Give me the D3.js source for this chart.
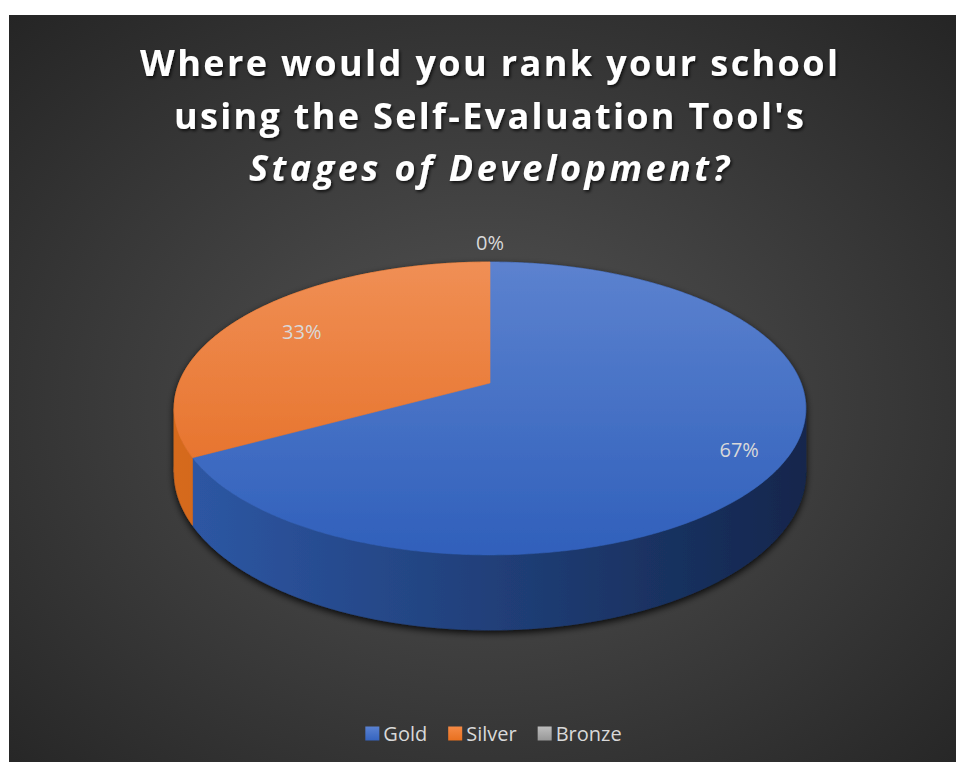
<!DOCTYPE html>
<html>
<head>
<meta charset="utf-8">
<script src="https://cdn.jsdelivr.net/npm/d3@7"></script>
<style>
  body { margin: 0; background: #ffffff; }
  svg { display: block; }
</style>
</head>
<body>
<svg id="chart" width="957" height="762"></svg>
<script>
// ---- data ----
const categories = ["Gold", "Silver", "Bronze"];
const values = [67, 33, 0];
const valueLabels = ["67%", "33%", "0%"];
const titleLines = ["Where would you rank your school", "using the Self-Evaluation Tool's", "Stages of Development?"];

// ---- styling ----
const topColors = [["#5c82cf", "#3060bb"], ["#f08f55", "#e3681c"], ["#c4c4c4", "#9a9a9a"]];
const sideColors = [["#2e58a6", "#13264c"], ["#d66a1e", "#a44d12"], ["#8a8a8a", "#5a5a5a"]];
const legendColors = [["#5a82d2", "#3564c0"], ["#f58a45", "#e8701f"], ["#bdbdbd", "#979797"]];
const labelRadius = [0.86, 0.75, 1.19];   // relative distance of each value label from the centre

const svg = d3.select("#chart");
const defs = svg.append("defs");

// background panel
const bg = defs.append("radialGradient").attr("id", "bgGrad")
  .attr("cx", "0.5").attr("cy", "0.52").attr("r", "0.72");
bg.append("stop").attr("offset", "0").attr("stop-color", "#545454");
bg.append("stop").attr("offset", "1").attr("stop-color", "#252525");
svg.append("rect").attr("x", 9).attr("y", 15).attr("width", 947).attr("height", 747)
  .attr("fill", "url(#bgGrad)");

// filters
const sh = defs.append("filter").attr("id", "pieShadow")
  .attr("x", "-10%").attr("y", "-10%").attr("width", "120%").attr("height", "130%");
sh.append("feDropShadow").attr("dx", 0).attr("dy", 3).attr("stdDeviation", 3.5)
  .attr("flood-color", "#000").attr("flood-opacity", 0.85);

const tsh = defs.append("filter").attr("id", "titleShadow")
  .attr("x", "-5%").attr("y", "-20%").attr("width", "110%").attr("height", "140%");
tsh.append("feDropShadow").attr("dx", 1.5).attr("dy", 2).attr("stdDeviation", 1.6)
  .attr("flood-color", "#000").attr("flood-opacity", 0.7);

// ---- pie geometry (perspective-projected disc) ----
const cx = 490, cy = 383;     // projected centre of the top face
const A = 311, B = 142;        // horizontal / vertical radii
const k = 0.174;               // perspective strength
const H = 62;                  // thickness
const TAU = Math.PI * 2;

function proj(theta, r, drop) {
  const u = r * Math.sin(theta), v = -r * Math.cos(theta);
  const w = 1 / (1 - k * v);
  return [cx + A * u * w, cy + B * v * w + drop * w];
}

function rimPoints(a0, a1, drop) {
  const n = Math.max(2, Math.ceil(Math.abs(a1 - a0) / 0.01));
  return d3.range(n + 1).map(i => proj(a0 + (a1 - a0) * i / n, 1, drop));
}

const line = d3.line();
const pie = d3.pie().sort(null).value(d => d.value).startAngle(0).endAngle(TAU);
const data = categories.map((c, i) => ({ name: c, value: values[i], label: valueLabels[i], idx: i }));
const arcs = pie(data);

// gradients for top and side faces
arcs.forEach(a => {
  const i = a.data.idx;
  const tg = defs.append("linearGradient").attr("id", "top" + i)
    .attr("gradientUnits", "userSpaceOnUse")
    .attr("x1", 0).attr("y1", cy - B / (1 + k)).attr("x2", 0).attr("y2", cy + B / (1 - k));
  tg.append("stop").attr("offset", 0).attr("stop-color", topColors[i][0]);
  tg.append("stop").attr("offset", 1).attr("stop-color", topColors[i][1]);
  const sg = defs.append("linearGradient").attr("id", "side" + i)
    .attr("gradientUnits", "userSpaceOnUse")
    .attr("x1", cx - A * 1.02).attr("y1", 0).attr("x2", cx + A * 1.02).attr("y2", 0);
  sg.append("stop").attr("offset", 0).attr("stop-color", sideColors[i][0]);
  sg.append("stop").attr("offset", 0.45).attr("stop-color", d3.interpolateRgb(sideColors[i][0], sideColors[i][1])(0.45));
  sg.append("stop").attr("offset", 1).attr("stop-color", sideColors[i][1]);
});

const pieG = svg.append("g").attr("filter", "url(#pieShadow)");

// silhouette angles split the rim into a hidden back part and a visible front part
const sil = Math.acos(-k);                // ~100 degrees
const frontRange = [sil, TAU - sil];
const backRanges = [[-sil + TAU, TAU], [0, sil]];

function clip(a0, a1, r) {
  const s = Math.max(a0, r[0]), e = Math.min(a1, r[1]);
  return e > s ? [s, e] : null;
}

const sidePieces = [];
arcs.filter(a => a.endAngle - a.startAngle > 1e-6).forEach(a => {
  backRanges.forEach(r => { const c = clip(a.startAngle, a.endAngle, r); if (c) sidePieces.push({ a, c, back: true }); });
  const f = clip(a.startAngle, a.endAngle, frontRange);
  if (f) sidePieces.push({ a, c: f, back: false });
});
sidePieces.sort((p, q) => (q.back ? 1 : 0) - (p.back ? 1 : 0));

pieG.selectAll("path.side").data(sidePieces).join("path")
  .attr("class", "side")
  .attr("d", p => {
    const topPts = rimPoints(p.c[0], p.c[1], 0);
    const botPts = rimPoints(p.c[1], p.c[0], H);
    return line(topPts.concat(botPts)) + "Z";
  })
  .attr("fill", p => `url(#side${p.a.data.idx})`)
  .attr("stroke", p => `url(#side${p.a.data.idx})`).attr("stroke-width", 0.6);

pieG.selectAll("path.top").data(arcs.filter(a => a.endAngle - a.startAngle > 1e-6)).join("path")
  .attr("class", "top")
  .attr("d", a => line([[cx, cy]].concat(rimPoints(a.startAngle, a.endAngle, 0))) + "Z")
  .attr("fill", a => `url(#top${a.data.idx})`)
  .attr("stroke", a => `url(#top${a.data.idx})`).attr("stroke-width", 0.6);

// ---- data labels ----
svg.append("g").selectAll("text").data(arcs).join("text")
  .attr("transform", a => {
    const mid = (a.startAngle + a.endAngle) / 2;
    const p = proj(mid, labelRadius[a.data.idx], 0);
    return `translate(${p[0]},${p[1]})`;
  })
  .attr("text-anchor", "middle").attr("dy", "0.36em")
  .attr("font-family", "'Open Sans', sans-serif").attr("font-size", 20)
  .attr("fill", "#d9d9d9")
  .text(a => a.data.label);

// ---- title ----
const titleWidths = [698, 630, 480];
const titleG = svg.append("g").attr("filter", "url(#titleShadow)");
titleLines.forEach((t, i) => {
  const txt = titleG.append("text")
    .attr("x", 489).attr("y", 76 + i * 52.5)
    .attr("text-anchor", "middle")
    .attr("font-family", "'Open Sans', sans-serif")
    .attr("font-weight", 700).attr("font-size", 36)
    .attr("font-style", i === 2 ? "italic" : "normal")
    .attr("fill", "#ffffff")
    .text(t);
  const w = txt.node().getComputedTextLength();
  const ls = (titleWidths[i] - w) / (t.length - 1);
  txt.attr("letter-spacing", ls);
  // letter-spacing adds trailing space after the last glyph; recentre
  txt.attr("x", 489 + ls / 2);
});

// ---- legend ----
const legendG = svg.append("g");
const items = legendG.selectAll("g").data(categories).join("g");
items.each(function (d, i) {
  const g = d3.select(this);
  const lg = defs.append("linearGradient").attr("id", "leg" + i)
    .attr("x1", 0).attr("y1", 0).attr("x2", 0).attr("y2", 1);
  lg.append("stop").attr("offset", 0).attr("stop-color", legendColors[i][0]);
  lg.append("stop").attr("offset", 1).attr("stop-color", legendColors[i][1]);
  g.append("rect").attr("x", 0).attr("y", -7).attr("width", 14).attr("height", 14)
    .attr("fill", `url(#leg${i})`);
  g.append("text").attr("x", 18).attr("dy", "0.36em")
    .attr("font-family", "'Open Sans', sans-serif").attr("font-size", 20)
    .attr("fill", "#d9d9d9").text(d);
});
let xPos = 0;
const itemGap = 21;
items.each(function () {
  const g = d3.select(this);
  g.attr("transform", `translate(${xPos},0)`);
  xPos += 18 + g.select("text").node().getComputedTextLength() + itemGap;
});
const legendWidth = xPos - itemGap;
legendG.attr("transform", `translate(${493.5 - legendWidth / 2},733.5)`);
</script>
</body>
</html>
